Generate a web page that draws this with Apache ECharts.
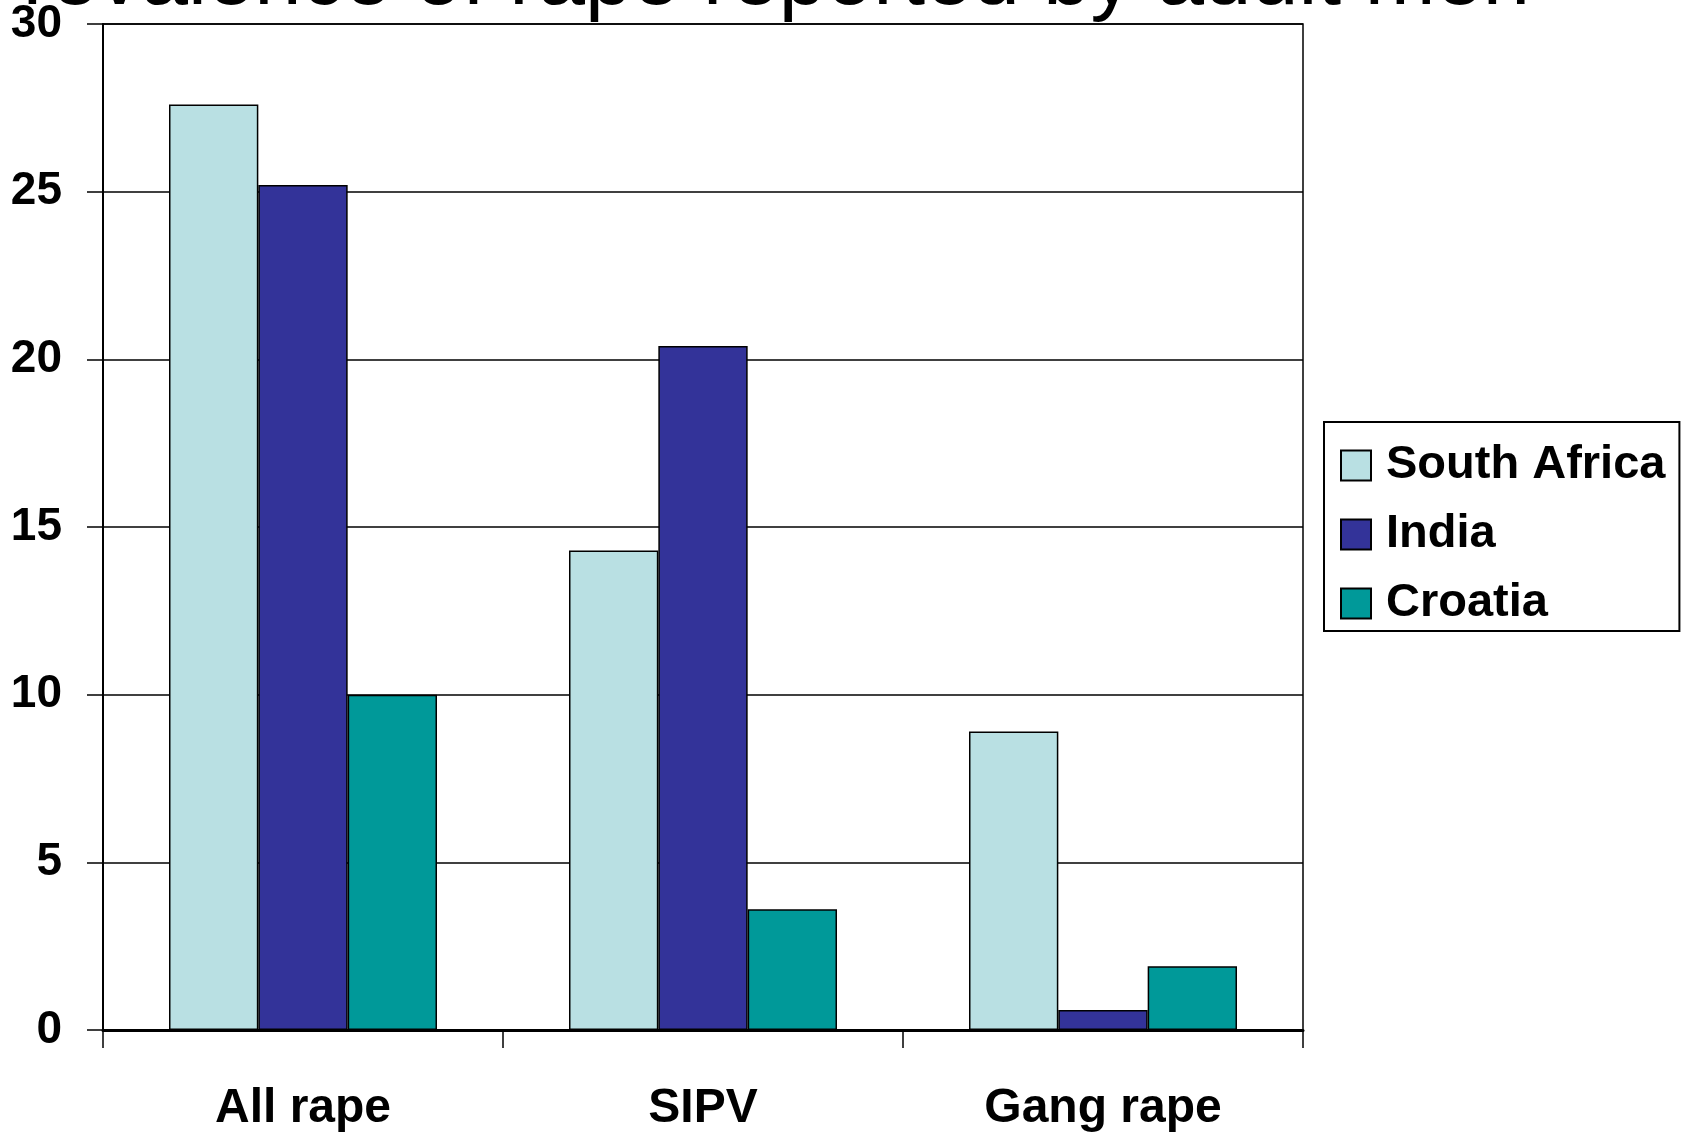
<!DOCTYPE html>
<html>
<head>
<meta charset="utf-8">
<script src="https://cdn.jsdelivr.net/npm/echarts@6/dist/echarts.min.js"></script>
<style>
html,body{margin:0;padding:0;background:#fff;}
#chart{width:1688px;height:1134px;}
</style>
</head>
<body>
<div id="chart"></div>
<script>
const titleText = 'Prevalence of rape reported by adult men';
const categories = ['All rape', 'SIPV', 'Gang rape'];
const seriesNames = ['South Africa', 'India', 'Croatia'];
const southAfrica = [27.6, 14.3, 8.9];
const india = [25.2, 20.4, 0.6];
const croatia = [10.0, 3.6, 1.9];
const colors = ['#B9E0E3', '#333399', '#009999'];

const FONT = '"Liberation Sans", Arial, sans-serif';
const chart = echarts.init(document.getElementById('chart'));
const values = [southAfrica, india, croatia];

chart.setOption({
  animation: false,
  backgroundColor: '#ffffff',
  title: {
    text: titleText,
    left: -34,
    top: -62,
    padding: 0,
    textStyle: { fontFamily: FONT, fontSize: 85, fontWeight: 'normal', color: '#000', lineHeight: 85 }
  },
  legend: {
    orient: 'vertical',
    left: 1324,
    top: 422,
    padding: [20, 14, 4, 16],
    itemWidth: 30,
    itemHeight: 30,
    itemGap: 22,
    icon: 'rect',
    borderColor: '#000',
    borderWidth: 2,
    textStyle: { fontFamily: FONT, fontSize: 47, fontWeight: 'bold', color: '#000', padding: [0, 0, 0, 10] },
    data: seriesNames
  },
  grid: {
    left: 103,
    right: 385,
    top: 24,
    bottom: 104,
    show: true,
    borderColor: '#000',
    borderWidth: 1.5
  },
  xAxis: {
    type: 'category',
    data: categories,
    axisLine: { show: true, lineStyle: { color: '#000', width: 3 } },
    axisTick: { show: true, length: 18, lineStyle: { color: '#000', width: 1.5 } },
    axisLabel: { margin: 55, fontFamily: FONT, fontSize: 48, fontWeight: 'bold', color: '#000' },
    splitLine: { show: false }
  },
  yAxis: {
    type: 'value',
    min: 0,
    max: 30,
    interval: 5,
    axisLine: { show: true, lineStyle: { color: '#000', width: 2 } },
    axisTick: { show: true, length: 16, lineStyle: { color: '#000', width: 1.5 } },
    axisLabel: { margin: 41, fontFamily: FONT, fontSize: 46, fontWeight: 'bold', color: '#000' },
    splitLine: { show: true, lineStyle: { color: '#000', width: 1.5 } }
  },
  series: seriesNames.map((name, i) => ({
    name: name,
    type: 'bar',
    data: values[i],
    barGap: '0%',
    barCategoryGap: '33%',
    itemStyle: { color: colors[i], borderColor: '#000', borderWidth: 1.5 }
  }))
});
</script>
</body>
</html>
